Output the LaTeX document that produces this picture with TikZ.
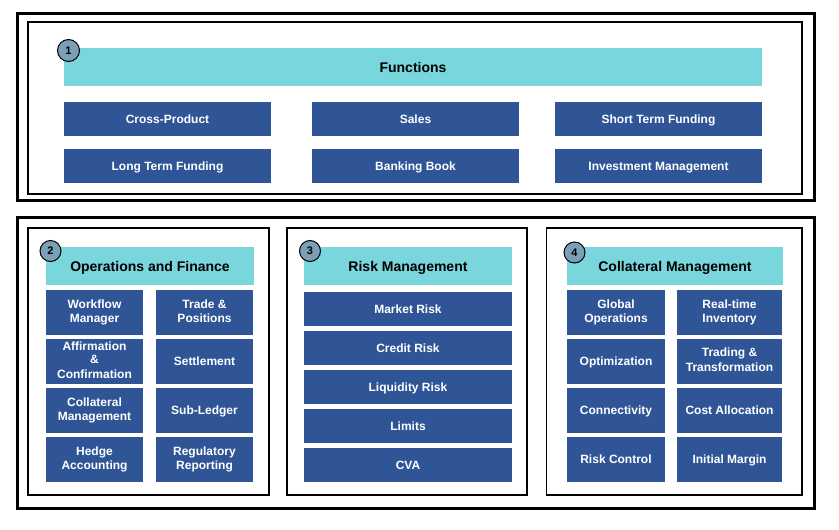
\documentclass[tikz,border=0pt]{standalone}
\usepackage{fontspec}
\setmainfont{Liberation Sans}
\usetikzlibrary{calc}
\definecolor{tileblue}{RGB}{47,85,151}
\definecolor{headcyan}{RGB}{121,214,220}
\definecolor{badgegrey}{RGB}{122,160,184}
\newcommand\tilestrut{\rule[-2.7pt]{0pt}{14pt}}
\newcommand\headstrut{\rule[-3pt]{0pt}{16pt}}
\tikzset{
  tile/.style={fill=tileblue, text=white, font=\bfseries\fontsize{12}{14}\selectfont, align=center, inner sep=0pt,
    execute at begin node=\tilestrut, execute at end node=\tilestrut},
  head/.style={fill=headcyan, font=\bfseries\fontsize{14}{16}\selectfont, inner sep=0pt,
    execute at begin node=\headstrut},
  badge/.style={circle, draw=black, line width=1pt, fill=badgegrey, minimum size=22pt, inner sep=0pt, font=\bfseries\fontsize{11}{13}\selectfont},
  frame/.style={draw=black, line width=3pt},
  panel/.style={draw=black, line width=1.3pt}
}
\begin{document}
\begin{tikzpicture}[x=1pt,y=-1pt]
    \useasboundingbox (0,0) rectangle (839,530);
    % top block
    \draw[frame] (17,13) rectangle (814,200);
    \draw[panel] (28,22) rectangle (802,194);
    \node[head, minimum width=698pt, minimum height=38pt] (functions) at (413,67) {Functions};
    \node[badge] (badge1) at (68.5,50.5) {1};
    \node[tile, minimum width=207pt, minimum height=34pt] (cross) at (167.5,119) {Cross-Product};
    \node[tile, minimum width=207pt, minimum height=34pt] (sales) at (415.5,119) {Sales};
    \node[tile, minimum width=207pt, minimum height=34pt] (short) at (658.5,119) {Short Term Funding};
    \node[tile, minimum width=207pt, minimum height=34pt] (long) at (167.5,166) {Long Term Funding};
    \node[tile, minimum width=207pt, minimum height=34pt] (banking) at (415.5,166) {Banking Book};
    \node[tile, minimum width=207pt, minimum height=34pt] (invest) at (658.5,166) {Investment Management};
    % bottom block
    \draw[frame] (17,217) rectangle (814,508);
    \draw[panel] (28,228) rectangle (269,495);
    \draw[panel] (287,228) rectangle (527,495);
    \draw[panel] (546.5,228) rectangle (802,495);
    % operations and finance
    \node[head, minimum width=208pt, minimum height=38pt] (ops) at (150,266) {Operations and Finance};
    \node[badge, minimum size=21pt] (badge2) at (50.5,251) {2};
    \foreach \left/\right [count=\i] in {{Workflow\\Manager}/{Trade \&\\Positions},
        {Affirmation\\\&\\Confirmation}/Settlement,
        {Collateral\\Management}/Sub-Ledger,
        {Hedge\\Accounting}/{Regulatory\\Reporting}}
    {
      \node[tile, minimum width=97pt, minimum height=45pt] (ops-a\i) at (94.5,{312+49*(\i-1)}) {\left};
      \node[tile, minimum width=97pt, minimum height=45pt] (ops-b\i) at (204.5,{312+49*(\i-1)}) {\right};
    }
    % risk management
    \node[head, minimum width=208pt, minimum height=38pt] (risk) at (408,266) {Risk Management};
    \node[badge, minimum size=21pt] (badge3) at (310,251) {3};
    \foreach \txt [count=\i] in {Market Risk, Credit Risk, Liquidity Risk, Limits, CVA}
      \node[tile, minimum width=208pt, minimum height=34pt] (risk-\i) at (408,{309+39*(\i-1)}) {\txt};
    % collateral management
    \node[head, minimum width=216pt, minimum height=38pt] (coll) at (675,266) {Collateral Management};
    \node[badge, minimum size=21pt] (badge4) at (574.5,252.5) {4};
    \foreach \left/\right [count=\i] in {{Global\\Operations}/{Real-time\\Inventory},
        Optimization/{Trading \&\\Transformation},
        Connectivity/Cost Allocation,
        Risk Control/Initial Margin}
    {
      \node[tile, minimum width=98pt, minimum height=45pt] (coll-a\i) at (616,{312+49*(\i-1)}) {\left};
      \node[tile, minimum width=105pt, minimum height=45pt] (coll-b\i) at (729.5,{312+49*(\i-1)}) {\right};
    }
\end{tikzpicture}
\end{document}
